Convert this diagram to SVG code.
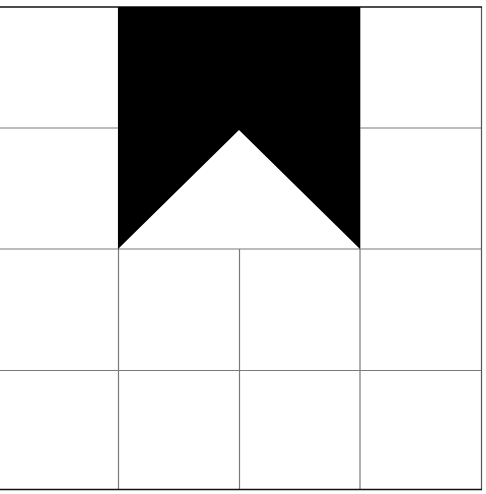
<svg xmlns="http://www.w3.org/2000/svg" width="486" height="494" viewBox="0 0 486 494">
<style>
.grid{stroke:#7a7a7a;stroke-width:1.2;fill:none}
.border{stroke:#111;stroke-width:1.6;fill:none}
</style>
<rect width="486" height="494" fill="#fff"/>
<g id="connectors">
<line class="grid" x1="118.5" y1="7" x2="118.5" y2="489.5"/>
<line class="grid" x1="239.5" y1="249" x2="239.5" y2="489.5"/>
<line class="grid" x1="360" y1="7" x2="360" y2="489.5"/>
<line class="grid" x1="0" y1="128" x2="482" y2="128"/>
<line class="grid" x1="0" y1="249" x2="482" y2="249"/>
<line class="grid" x1="0" y1="370.5" x2="482" y2="370.5"/>
<line class="grid" x1="481.5" y1="7" x2="481.5" y2="489.5" style="stroke:#555"/>
<line class="border" x1="0" y1="7" x2="482" y2="7"/>
<line class="border" x1="0" y1="489.5" x2="482" y2="489.5"/>
</g>
<g id="shape">
<polygon points="118,7 360,7 360,249 239,130 118,249" fill="#000"/>
</g>
</svg>
